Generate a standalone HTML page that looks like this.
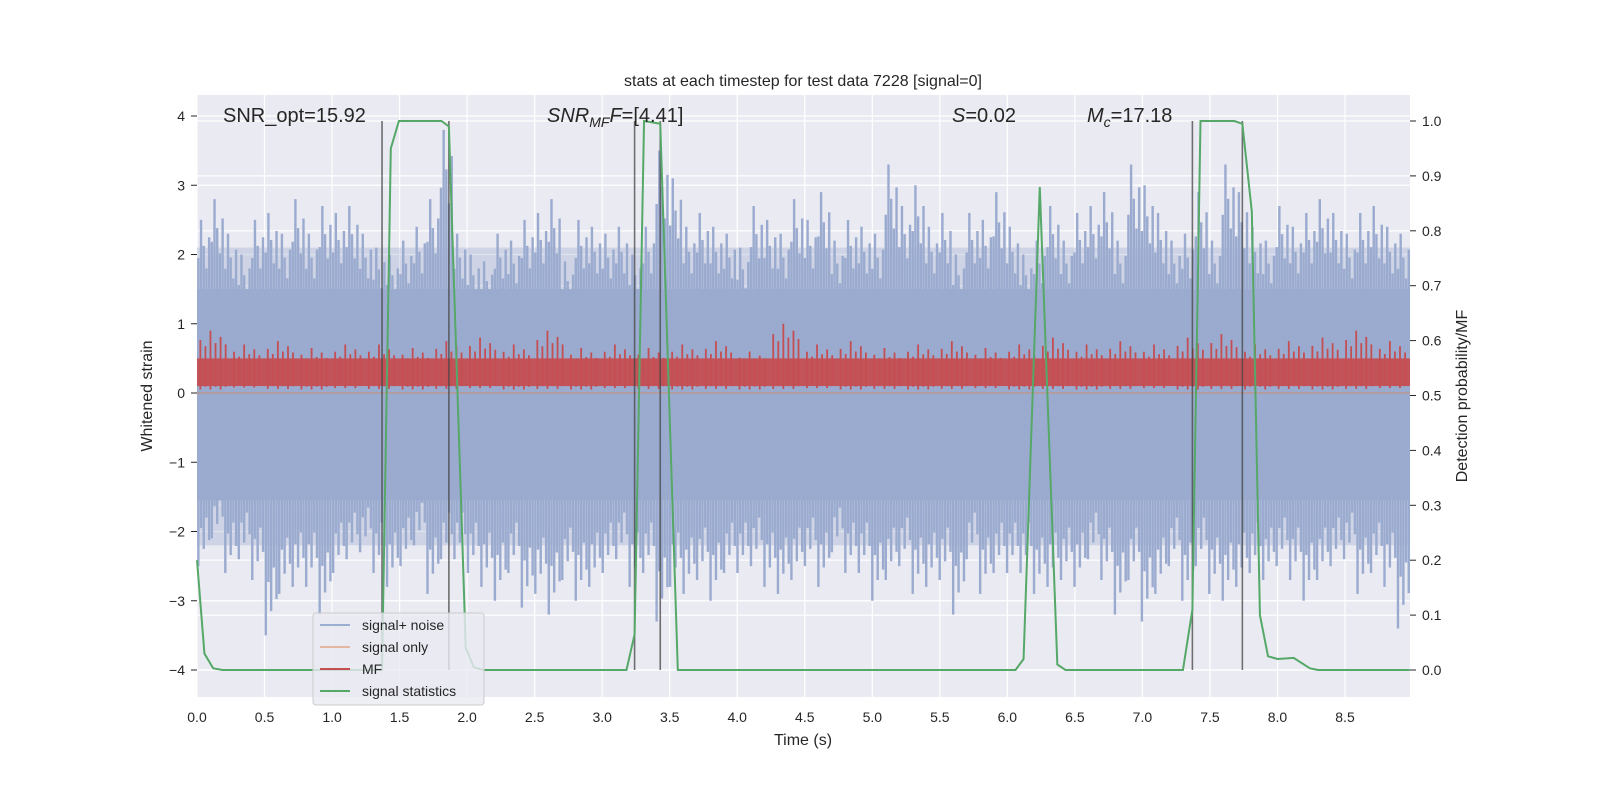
<!DOCTYPE html>
<html><head><meta charset="utf-8"><meta name="viewport" content="width=1600,initial-scale=1"><style>
html,body{margin:0;padding:0;background:#fff;overflow:hidden;width:100vw;height:100vh;}
svg{display:block;width:100vw;height:100vh;}
svg text{font-family:"Liberation Sans","DejaVu Sans",sans-serif;fill:#262626;}
</style></head><body>
<svg id="chart" viewBox="0 0 1600 800" preserveAspectRatio="none" xmlns="http://www.w3.org/2000/svg">
<rect x="197" y="95" width="1213" height="602" fill="#eaeaf2"/>
<g id="grid"></g>
<g id="noise"></g>
<line x1="197" x2="1410" y1="393" y2="393" stroke="#dd8452" stroke-opacity="0.5" stroke-width="1.5"/>
<g id="mf"></g>
<g id="vlines"></g>
<path id="stat" fill="none" stroke="#55a868" stroke-width="2"/>
<g id="axes"></g>
<text x="803" y="86" font-size="16" text-anchor="middle">stats at each timestep for test data 7228 [signal=0]</text>
<text x="223" y="122" font-size="20">SNR_opt=15.92</text>
<text x="547" y="122" font-size="20"><tspan font-style="italic">SNR</tspan><tspan font-style="italic" font-size="14" dy="5">MF</tspan><tspan font-style="italic" dy="-5">F</tspan>=[4.41]</text>
<text x="952" y="122" font-size="20"><tspan font-style="italic">S</tspan>=0.02</text>
<text x="1087" y="122" font-size="20"><tspan font-style="italic">M</tspan><tspan font-style="italic" font-size="14" dy="5">c</tspan><tspan dy="-5">=17.18</tspan></text>
<text x="803" y="745" font-size="16" text-anchor="middle">Time (s)</text>
<text transform="translate(152,396) rotate(-90)" font-size="16" text-anchor="middle">Whitened strain</text>
<text transform="translate(1467,396) rotate(-90)" font-size="16" text-anchor="middle">Detection probability/MF</text>
<g>
<rect x="313" y="613" width="171" height="92" rx="3" fill="#eaeaf2" fill-opacity="0.8" stroke="#cccccc"/>
<line x1="320" x2="350" y1="625" y2="625" stroke="#4c72b0" stroke-opacity="0.5" stroke-width="2"/>
<text x="362" y="630" font-size="14">signal+ noise</text>
<line x1="320" x2="350" y1="647" y2="647" stroke="#dd8452" stroke-opacity="0.5" stroke-width="2"/>
<text x="362" y="652" font-size="14">signal only</text>
<line x1="320" x2="350" y1="669" y2="669" stroke="#c44e52" stroke-width="2"/>
<text x="362" y="674" font-size="14">MF</text>
<line x1="320" x2="350" y1="691" y2="691" stroke="#55a868" stroke-width="2"/>
<text x="362" y="696" font-size="14">signal statistics</text>
</g>
</svg>
<script>
const noiseHi=[2.5,2.8,2.3,2.0,2.5,2.6,2.3,2.8,2.3,2.7, 2.6,2.7,2.3,2.1,2.0,2.2,2.4,2.8,3.8,2.3, 2.0,1.9,2.3,2.2,2.5,2.6,2.8,1.9,2.5,2.4, 2.3,2.4,2.0,2.4,3.5,3.1,2.4,2.6,2.4,2.3, 2.1,2.7,2.5,2.3,2.8,2.5,2.9,2.2,2.5,2.4, 2.3,3.3,2.7,3.0,2.4,2.6,2.0,2.6,2.5,2.9, 2.4,2.0,2.2,2.7,2.2,2.6,2.7,2.9,2.2,3.3, 3.0,2.6,2.2,2.3,2.9,2.2,3.3,2.9,2.4,2.2, 2.7,2.4,2.6,2.8,2.6,2.3,2.6,2.7,2.4,2.3];
const noiseLo=[-2.5,-2.1,-2.6,-2.4,-2.7,-3.5,-2.9,-2.8,-2.8,-3.2, -2.6,-2.4,-2.3,-2.6,-2.8,-2.5,-2.2,-2.9,-2.4,-2.4, -2.6,-2.8,-3.0,-2.6,-3.1,-2.9,-3.2,-2.7,-3.0,-2.8, -2.6,-2.4,-2.8,-2.6,-3.3,-2.8,-2.9,-2.7,-3.0,-2.6, -2.6,-2.5,-2.8,-2.9,-2.7,-2.5,-2.8,-2.3,-2.6,-2.6, -3.0,-2.7,-2.5,-2.9,-2.8,-2.7,-3.2,-2.4,-2.9,-2.6, -2.6,-2.6,-2.9,-2.8,-2.7,-2.8,-2.4,-2.7,-3.2,-2.7, -3.3,-2.9,-2.5,-3.0,-2.5,-2.9,-3.0,-2.8,-2.6,-2.7, -2.5,-2.7,-3.0,-2.7,-2.5,-2.4,-2.9,-2.6,-2.8,-3.4];
const mfHi=[0.9,0.7,0.75,0.65,0.7,0.7,0.65,0.75,0.8,0.7,0.9,0.65,0.7,0.65,0.7,0.75,0.6,1.0,0.7,0.75,0.65,0.7,0.75,0.65,0.7,0.8,0.7,0.75,0.7,0.8,0.85,0.7,0.75,0.8,0.9,0.75];
const mfLo=[0.05,0.08,0.06,0.05,0.07,0.06,0.05,0.06,0.07,0.05,0.06,0.05,0.07,0.06,0.05,0.06,0.05,0.06,0.07,0.05,0.06,0.05,0.06,0.07,0.05,0.06,0.05,0.06,0.07,0.05,0.06,0.05,0.06,0.05,0.06,0.07];
const statT=[0,0.055,0.12,0.19,1.37,1.435,1.495,1.81,1.865,1.99,2.05,2.12,3.18,3.24,3.31,3.43,3.56,6.06,6.12,6.24,6.37,6.43,7.30,7.37,7.43,7.68,7.74,7.81,7.87,7.93,8.0,8.12,8.24,8.30,8.98];
const statP=[0.2,0.03,0.003,0,0,0.95,1.0,1.0,0.99,0.04,0.005,0,0,0.065,1.0,0.995,0,0,0.02,0.88,0.01,0,0,0.11,1.0,1.0,0.995,0.835,0.10,0.025,0.02,0.022,0.003,0,0];
const markerT=[1.37,1.865,3.24,3.43,7.37,7.74];
const xTicks=[0,0.5,1,1.5,2,2.5,3,3.5,4,4.5,5,5.5,6,6.5,7,7.5,8,8.5];
const yTicks=[-4,-3,-2,-1,0,1,2,3,4];
const pTicks=[0,0.1,0.2,0.3,0.4,0.5,0.6,0.7,0.8,0.9,1.0];
const NS="http://www.w3.org/2000/svg";
const X=t=>197+t*135.06, YL=v=>393-v*69.25, YR=p=>670-p*549;
function mk(par,tag,at){const e=document.createElementNS(NS,tag);for(const k in at)e.setAttribute(k,at[k]);document.getElementById(par).appendChild(e);return e;}
yTicks.forEach(v=>{const e=mk('grid','line',{x1:197,x2:1410,y1:YL(v),y2:YL(v),stroke:'#fff','stroke-width':1.2});

});
pTicks.forEach(v=>{const e=mk('grid','line',{x1:197,x2:1410,y1:YR(v),y2:YR(v),stroke:'#fff','stroke-width':1.2});

});
xTicks.forEach(v=>{const e=mk('grid','line',{x1:X(v),x2:X(v),y1:95,y2:697,stroke:'#fff','stroke-width':1.2});

});
const bw=0.0998;
const core=mk('noise','rect',{x:197,y:YL(1.5),width:1213,height:YL(-1.55)-YL(1.5),fill:'#9aabcf'});


const off=[0.1,0.3,0.5,0.7,0.9],sc=[0.78,1,0.85,0.72,0.9];
let d='';
noiseHi.forEach((h,i)=>{const t0=i*bw;off.forEach((o,k)=>{const x=X(t0+o*bw);d+=`M${x},${YL(0)}V${YL(Math.max(1.5,h*sc[k]))}`;});});
noiseLo.forEach((h,i)=>{const t0=i*bw;off.forEach((o,k)=>{const x=X(t0+(1-o)*bw);d+=`M${x},${YL(0)}V${YL(Math.min(-1.55,h*sc[(k+2)%5]))}`;});});
const np=mk('noise','path',{d:d,stroke:'#9aabcf','stroke-width':2.4});


const nb=mk('noise','rect',{x:197,y:YL(2.1),width:1213,height:YL(-2.2)-YL(2.1),fill:'#9aabcf','fill-opacity':0.35});


const mw=0.2495;
const mc=mk('mf','rect',{x:197,y:YL(0.5),width:1213,height:YL(0.1)-YL(0.5),fill:'#c44e52','fill-opacity':0.95});


let md='';const mo=[0.1,0.25,0.4,0.55,0.7,0.85],ms=[0.85,0.75,1,0.8,0.9,0.78];
mfHi.forEach((h,i)=>{mo.forEach((o,k)=>{const x=X(i*mw+o*mw);md+=`M${x},${YL(mfLo[i]+(k%2)*0.04)}V${YL(Math.max(0.5,h*ms[k]))}`;});});
const mp=mk('mf','path',{d:md,stroke:'#c44e52','stroke-width':1.8});


markerT.forEach(t=>{const e=mk('vlines','line',{x1:X(t),x2:X(t),y1:YR(1),y2:YR(0),stroke:'#444','stroke-opacity':0.75,'stroke-width':1.6});

});
document.getElementById('stat').setAttribute('d',statT.map((t,i)=>(i?'L':'M')+X(t)+','+YR(statP[i])).join(''));
xTicks.forEach(v=>{const e=mk('axes','text',{x:X(v),y:722,'font-size':14,'text-anchor':'middle'});e.textContent=v.toFixed(1);

});
yTicks.forEach(v=>{const e=mk('axes','text',{x:185,y:YL(v)+5,'font-size':14,'text-anchor':'end'});e.textContent=(v<0?'\u2212'+(-v):v);


const l=mk('axes','line',{x1:191,x2:197,y1:YL(v),y2:YL(v),stroke:'#262626'});

});
pTicks.forEach(v=>{const e=mk('axes','text',{x:1422,y:YR(v)+5,'font-size':14});e.textContent=v.toFixed(1);


const l=mk('axes','line',{x1:1410,x2:1416,y1:YR(v),y2:YR(v),stroke:'#262626'});

});
</script>
</body></html>
